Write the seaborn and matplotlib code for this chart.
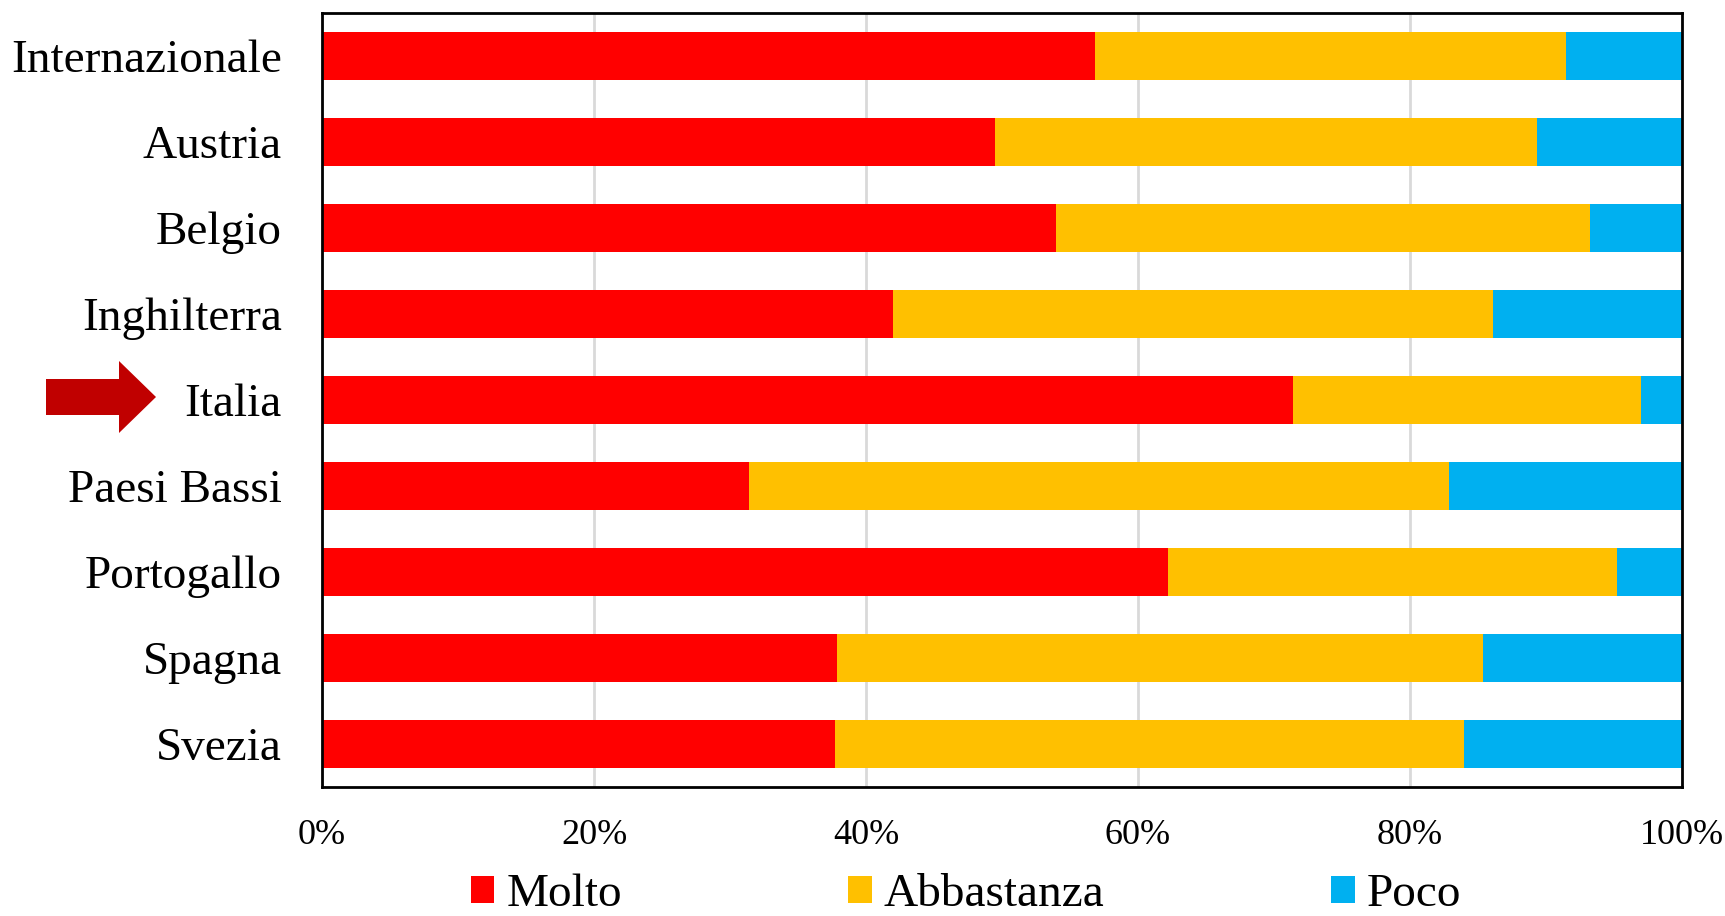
import pandas as pd
import matplotlib.pyplot as plt
import seaborn as sns
from matplotlib.patches import Patch, Polygon
from matplotlib.ticker import PercentFormatter

paesi = ["Internazionale", "Austria", "Belgio", "Inghilterra", "Italia",
         "Paesi Bassi", "Portogallo", "Spagna", "Svezia"]
molto = [56.8, 49.5, 54.0, 42.0, 71.4, 31.4, 62.2, 37.9, 37.7]
abbastanza = [34.7, 39.8, 39.2, 44.1, 25.6, 51.5, 33.0, 47.5, 46.3]
poco = [8.5, 10.7, 6.8, 13.9, 3.0, 17.1, 4.8, 14.6, 16.0]

colori = {"Molto": "#FF0000", "Abbastanza": "#FFC000", "Poco": "#00B0F0"}

df = pd.DataFrame({"paese": paesi, "Molto": molto,
                   "Abbastanza": abbastanza, "Poco": poco})
# cumulative sums, drawn back to front to get stacked bars
df["c_molto"] = df["Molto"]
df["c_abb"] = df["Molto"] + df["Abbastanza"]
df["c_poco"] = df["c_abb"] + df["Poco"]

sns.set_style("white")
plt.rcParams["font.family"] = ["Liberation Serif", "DejaVu Serif"]
plt.rcParams["text.color"] = "black"
plt.rcParams["xtick.color"] = "black"
plt.rcParams["ytick.color"] = "black"

fig = plt.figure(figsize=(17.25, 9.16), dpi=100)
ax = fig.add_axes([0.1867, 0.1408, 0.7884, 0.845])

for col, key in [("c_poco", "Poco"), ("c_abb", "Abbastanza"), ("c_molto", "Molto")]:
    sns.barplot(data=df, x=col, y="paese", orient="h", color=colori[key],
                width=0.56, saturation=1, ax=ax, zorder=2, linewidth=0)

ax.set_xlim(0, 100)
ax.set_ylim(8.5, -0.5)
ax.xaxis.set_major_formatter(PercentFormatter(100, decimals=0))
ax.set_xticks([0, 20, 40, 60, 80, 100])
ax.grid(axis="x", color="#D9D9D9", linewidth=2, zorder=0)
ax.set_axisbelow(True)
ax.set_xlabel("")
ax.set_ylabel("")
ax.tick_params(axis="y", length=0, pad=29, labelsize=34, labelcolor="black")
ax.tick_params(axis="x", length=0, pad=23, labelsize=26, labelcolor="black")
for s in ax.spines.values():
    s.set_visible(True)
    s.set_color("black")
    s.set_linewidth(2)

handles = [Patch(facecolor=colori[k], edgecolor="none") for k in ["Molto", "Abbastanza", "Poco"]]
leg = fig.legend(handles, ["Molto", "Abbastanza", "Poco"], loc="center",
                 bbox_to_anchor=(0.56, 0.023), ncol=3, frameon=False, fontsize=34,
                 handlelength=0.5, handleheight=0.5, handletextpad=0.25,
                 columnspacing=4.8, borderpad=0)
for t in leg.get_texts():
    t.set_color("black")

# arrow pointing at Italia
pts = [(46, 379), (119, 379), (119, 361), (156, 397), (119, 433), (119, 415), (46, 415)]
pts = [(x / 1725, 1 - y / 916) for x, y in pts]
fig.patches.append(Polygon(pts, closed=True, facecolor="#C00000", edgecolor="none",
                           transform=fig.transFigure, figure=fig))

fig.savefig("out.png", dpi=100)
